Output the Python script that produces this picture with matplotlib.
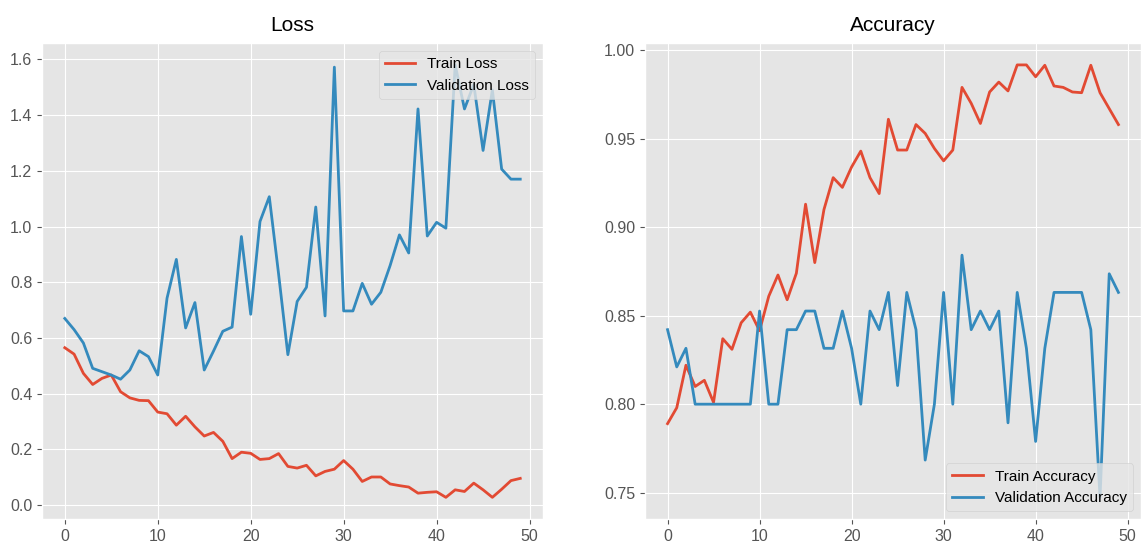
import matplotlib
matplotlib.use("Agg")
import matplotlib.pyplot as plt

plt.style.use("ggplot")
plt.rcParams["font.family"] = ["Liberation Sans", "DejaVu Sans"]

epochs = list(range(50))

# 학습/검증 손실
train_loss = [0.565, 0.542, 0.473, 0.433, 0.455, 0.467, 0.407, 0.385, 0.376, 0.375,
              0.334, 0.328, 0.287, 0.319, 0.281, 0.248, 0.261, 0.229, 0.167, 0.190,
              0.186, 0.164, 0.167, 0.185, 0.139, 0.133, 0.143, 0.105, 0.121, 0.129,
              0.160, 0.129, 0.085, 0.101, 0.101, 0.076, 0.070, 0.065, 0.043, 0.046,
              0.048, 0.028, 0.055, 0.049, 0.079, 0.055, 0.028, 0.057, 0.088, 0.096]
val_loss = [0.670, 0.630, 0.582, 0.491, 0.479, 0.467, 0.452, 0.485, 0.554, 0.533,
            0.467, 0.743, 0.882, 0.636, 0.727, 0.485, 0.553, 0.624, 0.639, 0.964,
            0.685, 1.018, 1.107, 0.830, 0.540, 0.731, 0.782, 1.070, 0.679, 1.572,
            0.697, 0.697, 0.796, 0.721, 0.764, 0.860, 0.970, 0.905, 1.422, 0.966,
            1.015, 0.994, 1.580, 1.422, 1.510, 1.273, 1.490, 1.206, 1.170, 1.170]

# 학습/검증 정확도
train_acc = [0.789, 0.798, 0.822, 0.810, 0.8135, 0.801, 0.837, 0.831, 0.846, 0.852,
             0.8415, 0.861, 0.873, 0.859, 0.874, 0.913, 0.880, 0.910, 0.928, 0.9225,
             0.934, 0.943, 0.928, 0.919, 0.961, 0.9436, 0.9436, 0.958, 0.953, 0.9445,
             0.9375, 0.9436, 0.979, 0.970, 0.9586, 0.9764, 0.982, 0.977, 0.9917, 0.9917,
             0.985, 0.9915, 0.9798, 0.979, 0.9764, 0.976, 0.9915, 0.976, 0.967, 0.958]
# 검증 세트 95개 중 맞춘 개수
val_correct = [80, 78, 79, 76, 76, 76, 76, 76, 76, 76,
               81, 76, 76, 80, 80, 81, 81, 79, 79, 81,
               79, 76, 81, 80, 82, 77, 82, 80, 73, 76,
               82, 76, 84, 80, 81, 80, 81, 75, 82, 79,
               74, 79, 82, 82, 82, 82, 80, 71, 83, 82]
val_acc = [c / 95 for c in val_correct]

fig = plt.figure(figsize=(11.42, 5.48), dpi=100)
ax1 = fig.add_axes([0.0368, 0.053, 0.4387, 0.868])
ax2 = fig.add_axes([0.5648, 0.053, 0.4343, 0.868])

ax1.plot(epochs, train_loss, label="Train Loss", lw=2)
ax1.plot(epochs, val_loss, label="Validation Loss", lw=2)
ax1.set_title("Loss", fontsize=15, color="black", pad=9)
ax1.legend(loc="upper right", fontsize=11)

ax2.plot(epochs, train_acc, label="Train Accuracy", lw=2)
ax2.plot(epochs, val_acc, label="Validation Accuracy", lw=2)
ax2.set_title("Accuracy", fontsize=15, color="black", pad=9)
ax2.legend(loc="lower right", fontsize=11)

for ax in (ax1, ax2):
    ax.tick_params(labelsize=11.5)
    ax.set_xticks([0, 10, 20, 30, 40, 50])

fig.savefig("out.png", dpi=100)
